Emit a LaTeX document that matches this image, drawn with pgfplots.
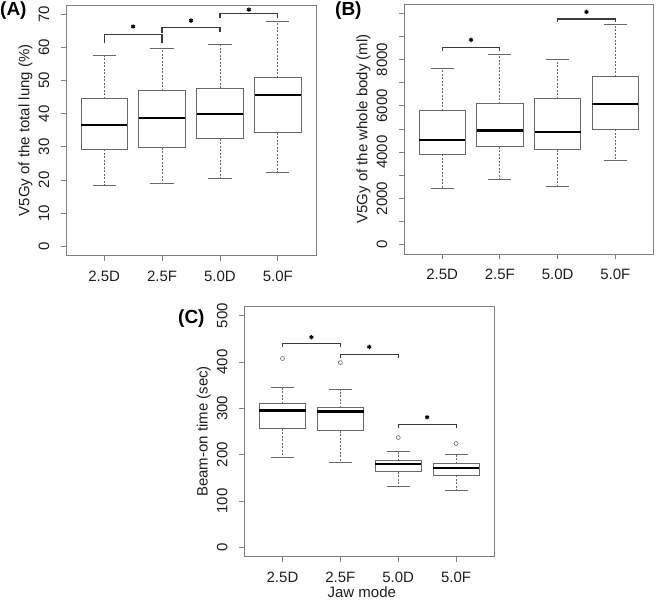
\documentclass[border=0pt]{standalone}
\usepackage{fontspec}
\setmainfont{Liberation Sans}
\usepackage{pgfplots}
\pgfplotsset{compat=1.18}
\definecolor{framegray}{RGB}{128,128,128}
\definecolor{boxgray}{RGB}{105,105,105}
\definecolor{brk}{RGB}{60,60,60}
\definecolor{txt}{RGB}{30,30,30}
\pgfplotsset{
  rpanel/.style={
    scale only axis,
    anchor=south west,
    xmin=0.34, xmax=4.66,
    xtick={1,2,3,4},
    xticklabels={2.5D,2.5F,5.0D,5.0F},
    xtick pos=bottom, ytick pos=left,
    tick align=outside,
    major tick length=5pt,
    tick style={draw=framegray, line width=0.8pt},
    axis line style={draw=framegray, line width=0.9pt},
    /pgf/number format/assume math mode=true,
    scaled y ticks=false,
    unbounded coords=jump,
    every tick label/.append style={font=\fontsize{15}{18}\selectfont, text=txt},
    yticklabel style={rotate=90, anchor=south, inner sep=0pt},
    yticklabel shift=11.5pt,
    xticklabel style={anchor=north, inner sep=0pt},
    xticklabel shift=10pt,
    every axis y label/.style={at={(axis description cs:-0.162,0.5)}, rotate=90, anchor=center, font=\fontsize{15}{18}\selectfont, text=txt},
    every axis x label/.style={at={(axis description cs:0.47,0)}, anchor=north, yshift=-30pt, inner sep=0pt, font=\fontsize{15}{18}\selectfont, text=txt},
  },
  rboxst/.style={draw=boxgray, line width=0.9pt, sharp plot, mark=none, line join=miter},
  rmed/.style={draw=black, line width=2.2pt, sharp plot, mark=none},
  rwh/.style={draw=boxgray, line width=0.8pt, sharp plot, mark=none, dash pattern=on 2pt off 1.5pt},
  rcap/.style={draw=boxgray, line width=0.9pt, sharp plot, mark=none},
  rout/.style={only marks, mark=o, mark size=2pt, mark options={boxgray, line width=0.6pt}},
  rbrk/.style={draw=brk, line width=1.2pt, sharp plot, mark=none},
  rstar/.style={only marks, mark=asterisk, mark size=2.2pt, mark options={black, line width=1.1pt}},
}
\begin{document}
\begin{tikzpicture}
\useasboundingbox (0pt,0pt) rectangle (656pt,-602pt);
% ---------------- (A)
\begin{axis}[rpanel, at={(66pt,-255.5pt)}, width=250pt, height=250.5pt,
  ymin=-2.8, ymax=72.8, ytick={0,10,...,70},
  ylabel={V5Gy of the total lung (\%)}]
\addplot[rboxst] coordinates {
 (1,29.3)(1.4,29.3)(1.4,44.5)(0.6,44.5)(0.6,29.3)(1,29.3) (nan,nan)
 (2,29.7)(2.4,29.7)(2.4,46.9)(1.6,46.9)(1.6,29.7)(2,29.7) (nan,nan)
 (3,32.4)(3.4,32.4)(3.4,47.7)(2.6,47.7)(2.6,32.4)(3,32.4) (nan,nan)
 (4,34.2)(4.4,34.2)(4.4,50.9)(3.6,50.9)(3.6,34.2)(4,34.2)};
\addplot[rwh] coordinates {
 (1,44.5)(1,57.5) (nan,nan) (1,29.3)(1,18.4) (nan,nan)
 (2,46.9)(2,59.7) (nan,nan) (2,29.7)(2,18.9) (nan,nan)
 (3,47.7)(3,60.8) (nan,nan) (3,32.4)(3,20.6) (nan,nan)
 (4,50.9)(4,67.9) (nan,nan) (4,34.2)(4,22.3)};
\addplot[rcap] coordinates {
 (0.8,57.5)(1.2,57.5) (nan,nan) (0.8,18.4)(1.2,18.4) (nan,nan)
 (1.8,59.7)(2.2,59.7) (nan,nan) (1.8,18.9)(2.2,18.9) (nan,nan)
 (2.8,60.8)(3.2,60.8) (nan,nan) (2.8,20.6)(3.2,20.6) (nan,nan)
 (3.8,67.9)(4.2,67.9) (nan,nan) (3.8,22.3)(4.2,22.3)};
\addplot[rmed] coordinates {
 (0.6,36.6)(1.4,36.6) (nan,nan) (1.6,38.7)(2.4,38.7) (nan,nan)
 (2.6,39.9)(3.4,39.9) (nan,nan) (3.6,45.7)(4.4,45.7)};
\addplot[rbrk] coordinates {(1,61.3) (1,64.0) (2,64.0) (2,61.3)};
\addplot[rbrk] coordinates {(2,64.4) (2,66.0) (3,66.0) (3,64.8)};
\addplot[rbrk] coordinates {(3,68.9) (3,70.2) (4,70.2) (4,68.9)};
\addplot[rstar] coordinates {(1.5,66.3) (2.5,68.1) (3.5,71.4)};
\end{axis}
% ---------------- (B)
\begin{axis}[rpanel, at={(404pt,-254pt)}, width=249.5pt, height=250pt,
  ymin=-400, ymax=10400, ytick={0,1000,2000,3000,4000,5000,6000,7000,8000,9000,10000},
  yticklabels={0,{},2000,{},4000,{},6000,{},8000,{},{}},
  ylabel={V5Gy of the whole body (ml)}]
\addplot[rboxst] coordinates {
 (1,3914)(1.4,3914)(1.4,5797)(0.6,5797)(0.6,3914)(1,3914) (nan,nan)
 (2,4230)(2.4,4230)(2.4,6100)(1.6,6100)(1.6,4230)(2,4230) (nan,nan)
 (3,4114)(3.4,4114)(3.4,6316)(2.6,6316)(2.6,4114)(3,4114) (nan,nan)
 (4,4993)(4.4,4993)(4.4,7266)(3.6,7266)(3.6,4993)(4,4993)};
\addplot[rwh] coordinates {
 (1,5797)(1,7626) (nan,nan) (1,3914)(1,2417) (nan,nan)
 (2,6100)(2,8214) (nan,nan) (2,4230)(2,2805) (nan,nan)
 (3,6316)(3,8014) (nan,nan) (3,4114)(3,2503) (nan,nan)
 (4,7266)(4,9510) (nan,nan) (4,4993)(4,3655)};
\addplot[rcap] coordinates {
 (0.8,7626)(1.2,7626) (nan,nan) (0.8,2417)(1.2,2417) (nan,nan)
 (1.8,8214)(2.2,8214) (nan,nan) (1.8,2805)(2.2,2805) (nan,nan)
 (2.8,8014)(3.2,8014) (nan,nan) (2.8,2503)(3.2,2503) (nan,nan)
 (3.8,9510)(4.2,9510) (nan,nan) (3.8,3655)(4.2,3655)};
\addplot[rmed] coordinates {
 (0.6,4519)(1.4,4519) (nan,nan) (1.6,4933)(2.4,4933) (nan,nan)
 (2.6,4862)(3.4,4862) (nan,nan) (3.6,6085)(4.4,6085)};
\addplot[rbrk] coordinates {(1,8374) (1,8518) (2,8518) (2,8374)};
\addplot[rbrk] coordinates {(3,9612) (3,9755) (4,9755) (4,9612)};
\addplot[rstar] coordinates {(1.5,8850) (3.5,10058)};
\end{axis}
% ---------------- (C)
\begin{axis}[rpanel, at={(244.3pt,-556.5pt)}, width=250pt, height=250pt,
  ymin=-20, ymax=520, ytick={0,100,200,300,400,500},
  ylabel={Beam-on time (sec)}, xlabel={Jaw mode}]
\addplot[rboxst] coordinates {
 (1,256.4)(1.4,256.4)(1.4,309.7)(0.6,309.7)(0.6,256.4)(1,256.4) (nan,nan)
 (2,251.4)(2.4,251.4)(2.4,301)(1.6,301)(1.6,251.4)(2,251.4) (nan,nan)
 (3,163.5)(3.4,163.5)(3.4,186.5)(2.6,186.5)(2.6,163.5)(3,163.5) (nan,nan)
 (4,155.6)(4.4,155.6)(4.4,180)(3.6,180)(3.6,155.6)(4,155.6)};
\addplot[rwh] coordinates {
 (1,309.7)(1,344.3) (nan,nan) (1,256.4)(1,193) (nan,nan)
 (2,301)(2,340.7) (nan,nan) (2,251.4)(2,183.8) (nan,nan)
 (3,186.5)(3,206) (nan,nan) (3,163.5)(3,131.8) (nan,nan)
 (4,180)(4,201) (nan,nan) (4,155.6)(4,122.4)};
\addplot[rcap] coordinates {
 (0.8,344.3)(1.2,344.3) (nan,nan) (0.8,193)(1.2,193) (nan,nan)
 (1.8,340.7)(2.2,340.7) (nan,nan) (1.8,183.8)(2.2,183.8) (nan,nan)
 (2.8,206)(3.2,206) (nan,nan) (2.8,131.8)(3.2,131.8) (nan,nan)
 (3.8,201)(4.2,201) (nan,nan) (3.8,122.4)(4.2,122.4)};
\addplot[rmed] coordinates {
 (0.6,295.3)(1.4,295.3) (nan,nan) (1.6,293.1)(2.4,293.1) (nan,nan)
 (2.6,179.3)(3.4,179.3) (nan,nan) (3.6,170.7)(4.4,170.7)};
\addplot[rout] coordinates {(1,407.7) (2,399) (3,237) (4,224)};
\addplot[rbrk] coordinates {(1,433) (1,440) (2,440) (2,433)};
\addplot[rbrk] coordinates {(2,409) (2,416.3) (3,416.3) (3,408)};
\addplot[rbrk] coordinates {(3,258.6) (3,265.8) (4,265.8) (4,258.6)};
\addplot[rstar] coordinates {(1.5,453.8) (2.5,432.9) (3.5,280.9)};
\end{axis}
% panel letters
\node[anchor=north west, inner sep=0pt, font=\bfseries\fontsize{19}{20}\selectfont, text=black] at (0pt,-2pt) {(A)};
\node[anchor=north west, inner sep=0pt, font=\bfseries\fontsize{19}{20}\selectfont, text=black] at (335pt,-2pt) {(B)};
\node[anchor=north west, inner sep=0pt, font=\bfseries\fontsize{19}{20}\selectfont, text=black] at (178pt,-310pt) {(C)};
\end{tikzpicture}
\end{document}
